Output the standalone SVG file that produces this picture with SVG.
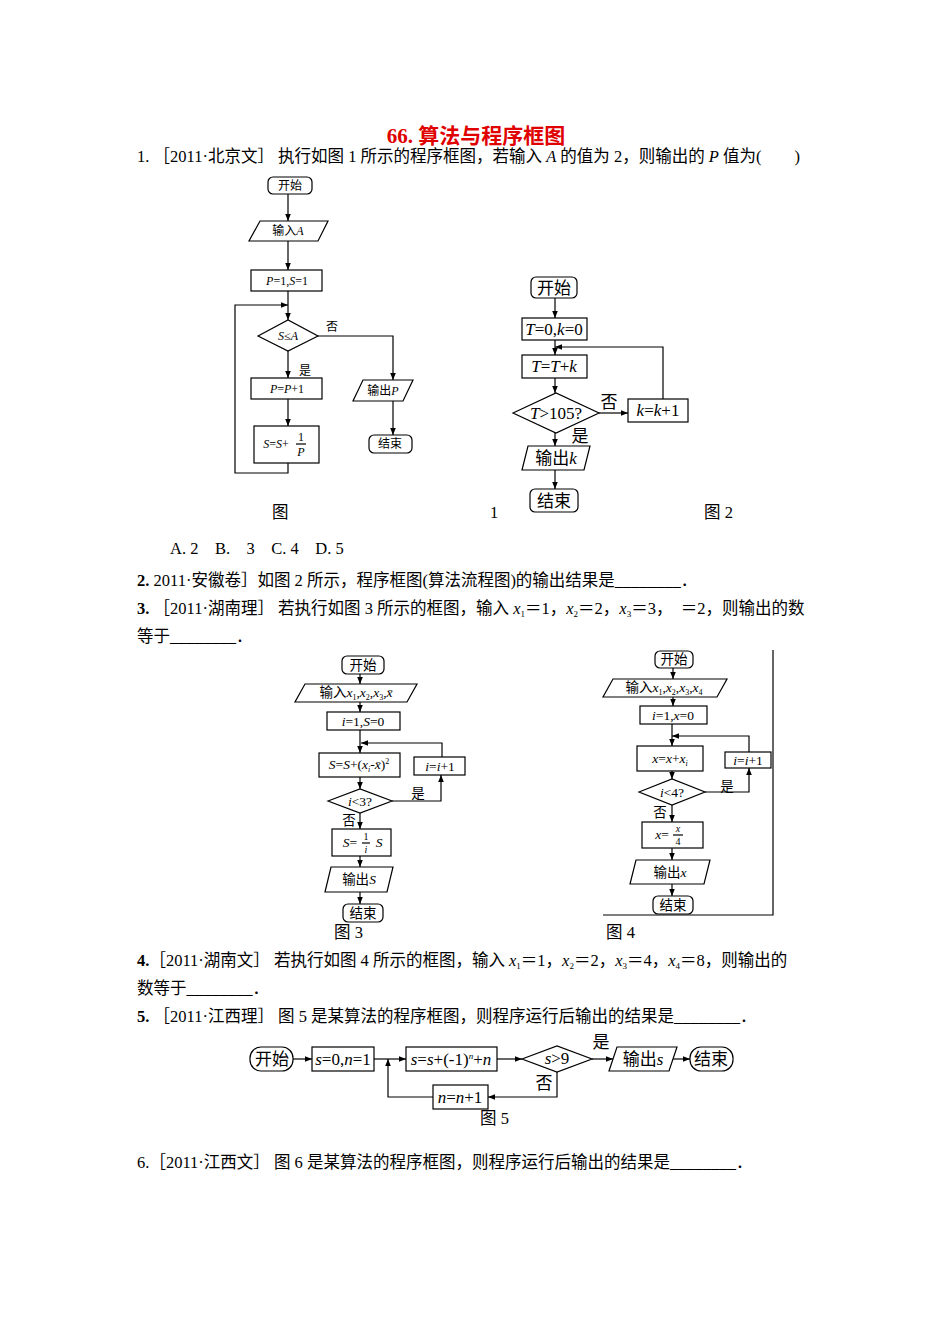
<svg xmlns="http://www.w3.org/2000/svg" width="950" height="1344" viewBox="0 0 950 1344">
<style>
text{font-family:"Liberation Serif","Noto Sans CJK SC",serif;fill:#000}
.b{font-size:16.5px}
.s{fill:#fff;stroke:#000;stroke-width:1.2}
.l{fill:none;stroke:#000;stroke-width:1.2}
.f1{font-size:12px;text-anchor:middle}
.f2{font-size:17px;text-anchor:middle}
.f3{font-size:13.5px;text-anchor:middle}
.i{font-style:italic}
</style>
<defs><marker id="a" viewBox="0 0 10 10" refX="10" refY="5" markerWidth="7" markerHeight="7" orient="auto" markerUnits="userSpaceOnUse"><path d="M0,1L10,5L0,9z" fill="#000"/></marker></defs>
<rect width="950" height="1344" fill="#fff"/>
<text x="476" y="143" style="font-size:21px;font-weight:bold;fill:#e00000;text-anchor:middle">66.  算法与程序框图</text>
<g id="text">
<text class="b" x="137" y="162">1. ［2011·北京文］ 执行如图 1 所示的程序框图，若输入 <tspan class="i">A</tspan> 的值为 2，则输出的 <tspan class="i">P</tspan> 值为(　　)</text>
<text class="b" x="272" y="518">图</text><text class="b" x="490" y="518">1</text><text class="b" x="704" y="518">图 2</text>
<text class="b" x="170" y="554">A. 2　B.　3　C. 4　D. 5</text>
<text class="b" x="137" y="586"><tspan font-weight="bold">2.</tspan>  2011·安徽卷］如图 2 所示，程序框图(算法流程图)的输出结果是________．</text>
<text class="b" x="137" y="614"><tspan font-weight="bold">3.</tspan> ［2011·湖南理］ 若执行如图 3 所示的框图，输入 <tspan class="i">x</tspan><tspan font-size="9" dy="3">1</tspan><tspan dy="-3">＝1，</tspan><tspan class="i">x</tspan><tspan font-size="9" dy="3">2</tspan><tspan dy="-3">＝2，</tspan><tspan class="i">x</tspan><tspan font-size="9" dy="3">3</tspan><tspan dy="-3">＝3，　＝2，则输出的数</tspan></text>
<text class="b" x="137" y="642">等于________．</text>
<text class="b" x="334" y="938">图 3</text><text class="b" x="606" y="938">图 4</text>
<text class="b" x="137" y="966"><tspan font-weight="bold">4.</tspan>［2011·湖南文］ 若执行如图 4 所示的框图，输入 <tspan class="i">x</tspan><tspan font-size="9" dy="3">1</tspan><tspan dy="-3">＝1，</tspan><tspan class="i">x</tspan><tspan font-size="9" dy="3">2</tspan><tspan dy="-3">＝2，</tspan><tspan class="i">x</tspan><tspan font-size="9" dy="3">3</tspan><tspan dy="-3">＝4，</tspan><tspan class="i">x</tspan><tspan font-size="9" dy="3">4</tspan><tspan dy="-3">＝8，则输出的</tspan></text>
<text class="b" x="137" y="994">数等于________．</text>
<text class="b" x="137" y="1022"><tspan font-weight="bold">5.</tspan> ［2011·江西理］ 图 5 是某算法的程序框图，则程序运行后输出的结果是________．</text>
<text class="b" x="480" y="1124">图 5</text>
<text class="b" x="137" y="1168">6.［2011·江西文］ 图 6 是某算法的程序框图，则程序运行后输出的结果是________．</text>
</g>
<g id="fig1-connectors">
<path class="l" d="M288,194V221" marker-end="url(#a)"/>
<path class="l" d="M288,241V270" marker-end="url(#a)"/>
<path class="l" d="M288,291V320" marker-end="url(#a)"/>
<path class="l" d="M288,351V378" marker-end="url(#a)"/>
<path class="l" d="M288,399V426" marker-end="url(#a)"/>
<path class="l" d="M288,463V473H235V305H288" marker-end="url(#a)"/>
<path class="l" d="M318,336H393V380" marker-end="url(#a)"/>
<path class="l" d="M393,401V435" marker-end="url(#a)"/>
<text class="f1" x="332" y="331">否</text><text class="f1" x="305" y="375">是</text>
</g>
<g id="fig1-nodes">
<rect class="s" x="268" y="177" width="44" height="17" rx="5"/><text class="f1" x="290" y="190">开始</text>
<path class="s" d="M260,221H328L318,241H249Z"/><text class="f1" x="288" y="235">输入<tspan class="i">A</tspan></text>
<rect class="s" x="251" y="270" width="71" height="21"/><text class="f1" x="287" y="285"><tspan class="i">P</tspan>=1,<tspan class="i">S</tspan>=1</text>
<path class="s" d="M258,336L288,320L318,336L288,351Z"/><text class="f1" x="288" y="340"><tspan class="i">S</tspan>≤<tspan class="i">A</tspan></text>
<rect class="s" x="251" y="378" width="71" height="21"/><text class="f1" x="287" y="393"><tspan class="i">P</tspan>=<tspan class="i">P</tspan>+1</text>
<rect class="s" x="254" y="426" width="65" height="37"/><text class="f1" x="276" y="448"><tspan class="i">S</tspan>=<tspan class="i">S</tspan>+</text><text class="f1" x="301" y="441">1</text><path class="l" d="M296,444H306" stroke-width="0.8"/><text class="f1 i" x="301" y="456">P</text>
<path class="s" d="M363,380H413L403,401H353Z"/><text class="f1" x="383" y="395">输出<tspan class="i">P</tspan></text>
<rect class="s" x="369" y="435" width="43" height="18" rx="5"/><text class="f1" x="390" y="448">结束</text>
</g>
<g id="fig2-connectors">
<path class="l" d="M555,298V318" marker-end="url(#a)"/>
<path class="l" d="M555,340V355" marker-end="url(#a)"/>
<path class="l" d="M555,378V393" marker-end="url(#a)"/>
<path class="l" d="M599,413H628" marker-end="url(#a)"/>
<path class="l" d="M663,399V347H555" marker-end="url(#a)"/>
<path class="l" d="M555,433V446" marker-end="url(#a)"/>
<path class="l" d="M555,470V489" marker-end="url(#a)"/>
<text class="f2" x="609" y="408">否</text><text class="f2" x="580" y="442">是</text>
</g>
<g id="fig2-nodes">
<rect class="s" x="531" y="277" width="46" height="21" rx="5"/><text class="f2" x="554" y="294">开始</text>
<rect class="s" x="522" y="318" width="65" height="22"/><text class="f2" x="554" y="335"><tspan class="i">T</tspan>=0,<tspan class="i">k</tspan>=0</text>
<rect class="s" x="522" y="355" width="65" height="23"/><text class="f2" x="554" y="372"><tspan class="i">T</tspan>=<tspan class="i">T</tspan>+<tspan class="i">k</tspan></text>
<path class="s" d="M513,413L556,393L599,413L556,433Z"/><text class="f2" x="556" y="419"><tspan class="i">T</tspan>&gt;105?</text>
<rect class="s" x="628" y="399" width="60" height="23"/><text class="f2" x="658" y="416"><tspan class="i">k</tspan>=<tspan class="i">k</tspan>+1</text>
<path class="s" d="M528,446H590L584,470H522Z"/><text class="f2" x="556" y="464">输出<tspan class="i">k</tspan></text>
<rect class="s" x="530" y="489" width="48" height="23" rx="5"/><text class="f2" x="554" y="507">结束</text>
</g>
<g id="fig3-connectors">
<path class="l" d="M360,674V684" marker-end="url(#a)"/>
<path class="l" d="M360,702V712" marker-end="url(#a)"/>
<path class="l" d="M360,730V753" marker-end="url(#a)"/>
<path class="l" d="M360,777V789" marker-end="url(#a)"/>
<path class="l" d="M392,801H441V775" marker-end="url(#a)"/>
<path class="l" d="M442,757V743H361" marker-end="url(#a)"/>
<path class="l" d="M360,813V829" marker-end="url(#a)"/>
<path class="l" d="M360,856V867" marker-end="url(#a)"/>
<path class="l" d="M360,892V904" marker-end="url(#a)"/>
<text class="f3" x="418" y="798">是</text><text class="f3" x="349" y="825">否</text>
</g>
<g id="fig3-nodes">
<rect class="s" x="342" y="656" width="42" height="18" rx="5"/><text class="f3" x="363" y="670">开始</text>
<path class="s" d="M305,684H417L407,702H295Z"/><text class="f3" x="356" y="697">输入<tspan class="i">x</tspan><tspan font-size="8" dy="3">1</tspan><tspan dy="-3">,</tspan><tspan class="i">x</tspan><tspan font-size="8" dy="3">2</tspan><tspan dy="-3">,</tspan><tspan class="i">x</tspan><tspan font-size="8" dy="3">3</tspan><tspan dy="-3">,</tspan><tspan class="i">x̄</tspan></text>
<rect class="s" x="327" y="712" width="73" height="18"/><text class="f3" x="363" y="726"><tspan class="i">i</tspan>=1,<tspan class="i">S</tspan>=0</text>
<rect class="s" x="319" y="753" width="81" height="24"/><text class="f3" x="359" y="769"><tspan class="i">S</tspan>=<tspan class="i">S</tspan>+(<tspan class="i">x</tspan><tspan font-size="8" dy="3" class="i">i</tspan><tspan dy="-3">-</tspan><tspan class="i">x̄</tspan>)<tspan font-size="8" dy="-5">2</tspan></text>
<rect class="s" x="414" y="757" width="51" height="18"/><text class="f3" x="440" y="771"><tspan class="i">i</tspan>=<tspan class="i">i</tspan>+1</text>
<path class="s" d="M328,801L360,789L392,801L360,813Z"/><text class="f3" x="360" y="806"><tspan class="i">i</tspan>&lt;3?</text>
<rect class="s" x="332" y="829" width="59" height="27"/><text class="f3" x="350" y="847"><tspan class="i">S</tspan>=</text><text font-size="10" x="366" y="840" text-anchor="middle">1</text><path class="l" d="M362,843H370" stroke-width="0.8"/><text font-size="10" class="i" x="366" y="853" text-anchor="middle">i</text><text class="f3 i" x="379" y="847">S</text>
<path class="s" d="M331,867H393L387,892H325Z"/><text class="f3" x="359" y="884">输出<tspan class="i">S</tspan></text>
<rect class="s" x="343" y="904" width="40" height="18" rx="5"/><text class="f3" x="363" y="918">结束</text>
</g>
<g id="fig4-connectors">
<path class="l" d="M603,915H773V650" stroke="#aaa" stroke-width="0.8"/>
<path class="l" d="M673,668V679" marker-end="url(#a)"/>
<path class="l" d="M673,697V706" marker-end="url(#a)"/>
<path class="l" d="M672,724V746" marker-end="url(#a)"/>
<path class="l" d="M672,771V779" marker-end="url(#a)"/>
<path class="l" d="M705,792H749V768" marker-end="url(#a)"/>
<path class="l" d="M749,752V736H672" marker-end="url(#a)"/>
<path class="l" d="M672,805V822" marker-end="url(#a)"/>
<path class="l" d="M672,848V860" marker-end="url(#a)"/>
<path class="l" d="M672,884V896" marker-end="url(#a)"/>
<text class="f3" x="727" y="791">是</text><text class="f3" x="660" y="817">否</text>
</g>
<g id="fig4-nodes">
<rect class="s" x="655" y="651" width="38" height="17" rx="5"/><text class="f3" x="674" y="664">开始</text>
<path class="s" d="M613,679H727L717,697H603Z"/><text class="f3" x="664" y="692">输入<tspan class="i">x</tspan><tspan font-size="8" dy="3">1</tspan><tspan dy="-3">,</tspan><tspan class="i">x</tspan><tspan font-size="8" dy="3">2</tspan><tspan dy="-3">,</tspan><tspan class="i">x</tspan><tspan font-size="8" dy="3">3</tspan><tspan dy="-3">,</tspan><tspan class="i">x</tspan><tspan font-size="8" dy="3">4</tspan></text>
<rect class="s" x="640" y="706" width="67" height="18"/><text class="f3" x="673" y="720"><tspan class="i">i</tspan>=1,<tspan class="i">x</tspan>=0</text>
<rect class="s" x="637" y="746" width="66" height="25"/><text class="f3" x="670" y="763"><tspan class="i">x</tspan>=<tspan class="i">x</tspan>+<tspan class="i">x</tspan><tspan font-size="8" dy="3" class="i">i</tspan></text>
<rect class="s" x="725" y="752" width="46" height="16"/><text class="f3" x="748" y="765"><tspan class="i">i</tspan>=<tspan class="i">i</tspan>+1</text>
<path class="s" d="M639,792L672,779L705,792L672,805Z"/><text class="f3" x="672" y="797"><tspan class="i">i</tspan>&lt;4?</text>
<rect class="s" x="642" y="822" width="61" height="26"/><text class="f3" x="662" y="839"><tspan class="i">x</tspan>=</text><text font-size="10" class="i" x="678" y="832" text-anchor="middle">x</text><path class="l" d="M673,835H683" stroke-width="0.8"/><text font-size="10" x="678" y="845" text-anchor="middle">4</text>
<path class="s" d="M636,860H710L704,884H630Z"/><text class="f3" x="670" y="877">输出<tspan class="i">x</tspan></text>
<rect class="s" x="653" y="896" width="40" height="18" rx="5"/><text class="f3" x="673" y="910">结束</text>
</g>
<g id="fig5-connectors">
<path class="l" d="M293,1059H312" marker-end="url(#a)"/>
<path class="l" d="M374,1059H406" marker-end="url(#a)"/>
<path class="l" d="M497,1059H522" marker-end="url(#a)"/>
<path class="l" d="M592,1059H613" marker-end="url(#a)"/>
<path class="l" d="M672,1059H690" marker-end="url(#a)"/>
<path class="l" d="M557,1072V1097H488" marker-end="url(#a)"/>
<path class="l" d="M433,1097H388V1059" marker-end="url(#a)"/>
<text class="f2" x="601" y="1048">是</text><text class="f2" x="544" y="1089">否</text>
</g>
<g id="fig5-nodes">
<rect class="s" x="250" y="1047" width="43" height="24" rx="11"/><text class="f2" x="272" y="1065">开始</text>
<rect class="s" x="312" y="1047" width="62" height="24"/><text class="f2" x="343" y="1065"><tspan class="i">s</tspan>=0,<tspan class="i">n</tspan>=1</text>
<rect class="s" x="406" y="1047" width="91" height="24"/><text class="f2" x="451" y="1065"><tspan class="i">s</tspan>=<tspan class="i">s</tspan>+(-1)<tspan font-size="9" dy="-6" class="i">n</tspan><tspan dy="6">+</tspan><tspan class="i">n</tspan></text>
<path class="s" d="M522,1059L557,1046L592,1059L557,1072Z"/><text class="f2" x="557" y="1064"><tspan class="i">s</tspan>&gt;9</text>
<path class="s" d="M617,1047H677L669,1071H609Z"/><text class="f2" x="643" y="1065">输出<tspan class="i">s</tspan></text>
<rect class="s" x="690" y="1047" width="43" height="24" rx="11"/><text class="f2" x="711" y="1065">结束</text>
<rect class="s" x="433" y="1085" width="55" height="24"/><text class="f2" x="460" y="1103"><tspan class="i">n</tspan>=<tspan class="i">n</tspan>+1</text>
</g>
</svg>
